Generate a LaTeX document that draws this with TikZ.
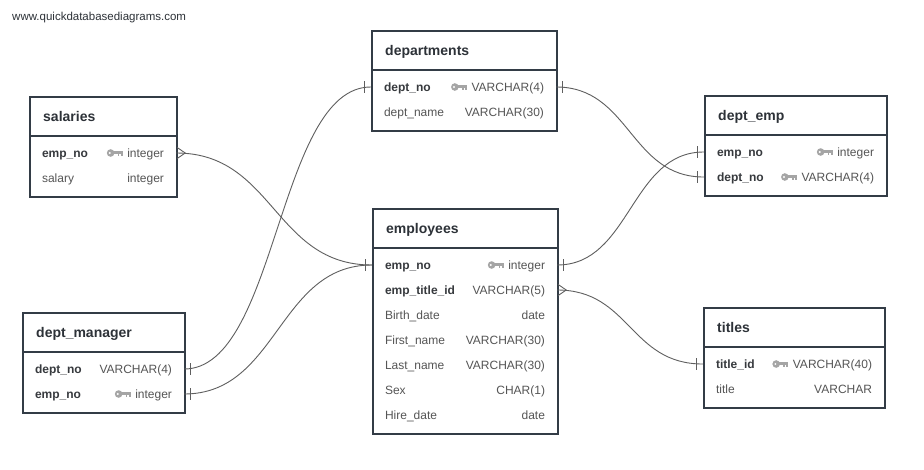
\documentclass[tikz,border=0pt]{standalone}
\usepackage{fontspec}
\setmainfont{Liberation Sans}
\usetikzlibrary{calc}
\definecolor{bordc}{RGB}{51,60,70}
\definecolor{titc}{RGB}{45,50,56}
\definecolor{keyc}{RGB}{165,165,165}
\definecolor{txtc}{RGB}{85,85,85}
\definecolor{boldc}{RGB}{55,58,62}
\definecolor{linec}{RGB}{95,95,95}
\tikzset{
  tbl/.style={draw=bordc, line width=2pt, inner sep=0pt, anchor=north west},
  sepline/.style={draw=bordc, line width=2pt},
  hdr/.style={anchor=base west, inner sep=0pt, text=titc, font=\fontsize{14}{16}\selectfont\bfseries},
  rowbox/.style={inner sep=0pt, minimum height=25pt},
  fldb/.style={anchor=base west, inner sep=0pt, text=boldc, font=\fontsize{12}{14}\selectfont\bfseries},
  fldr/.style={anchor=base west, inner sep=0pt, text=txtc, font=\fontsize{12}{14}\selectfont},
  typ/.style={anchor=base east, inner sep=0pt, text=txtc, font=\fontsize{12}{14}\selectfont},
  conn/.style={draw=linec, line width=0.9pt},
  site/.style={anchor=base west, inner sep=0pt, text=titc, font=\fontsize{11.5}{13}\selectfont},
  keyicon/.pic={
    \fill[keyc] (-12,0) circle (3.8);
    \fill[keyc] (-9.5,-1.6) rectangle (0,1.4);
    \fill[keyc] (-5,0) rectangle (-3.2,3.4);
    \fill[keyc] (-1.8,0) rectangle (0,3.4);
    \fill[white] (-12.8,0) circle (1.1);
  }
}
\newcommand\ertab[6]{%
  \gdef\tx{#2}\gdef\ty{#3}\gdef\tw{#4}%
  \node[tbl, minimum width=#4*1pt, minimum height={(50+25*#5)*1pt}] (#1) at (#2,#3) {};
  \node[hdr] (#1title) at (#2+14,#3+25) {#6};
  \draw[sepline] (#2,#3+40) -- (#2+#4,#3+40);
}
\newcommand\errow[5]{%
  \node[rowbox, minimum width=\tw*1pt] (#1#2) at (\tx+\tw/2, \ty+57+25*#2-25) {};
  \node[#3] (#1#2f) at ($(#1#2.west)+(13,4)$) {#4};
  \node[typ] (#1#2t) at ($(#1#2.east)+(-12,4)$) {#5};
}
\newcommand\erkey[1]{\pic at ($(#1t.base west)+(-4.5,-4)$) {keyicon};}
\newcommand\erconn[2]{\draw[conn] let \p1=(#1.east), \p2=(#2.west), \n1={(\x2-\x1)/2} in (\p1) .. controls +(\n1,0) and +(-\n1,0) .. (\p2);}
\newcommand\barE[1]{\draw[conn] ($(#1.east)+(6,-6)$) -- ($(#1.east)+(6,6)$);}
\newcommand\barW[1]{\draw[conn] ($(#1.west)+(-6,-6)$) -- ($(#1.west)+(-6,6)$);}
\newcommand\crowE[1]{\draw[conn] ($(#1.east)+(1,-5.5)$) -- ($(#1.east)+(9,0)$) -- ($(#1.east)+(1,5.5)$);}
\begin{document}
\begin{tikzpicture}[x=1pt,y=-1pt]
\useasboundingbox (0,0) rectangle (924,469);
\fill[white] (0,0) rectangle (924,469);
\node[site] (site) at (12,20) {www.quickdatabasediagrams.com};

% salaries
\ertab{sal}{29}{96}{147}{2}{salaries}
\errow{sal}{1}{fldb}{emp\_no}{integer}
\errow{sal}{2}{fldr}{salary}{integer}
\erkey{sal1}

% departments
\ertab{dep}{371}{30}{185}{2}{departments}
\errow{dep}{1}{fldb}{dept\_no}{VARCHAR(4)}
\errow{dep}{2}{fldr}{dept\_name}{VARCHAR(30)}
\erkey{dep1}

% dept_emp
\ertab{de}{704}{95}{182}{2}{dept\_emp}
\errow{de}{1}{fldb}{emp\_no}{integer}
\errow{de}{2}{fldb}{dept\_no}{VARCHAR(4)}
\erkey{de1}
\erkey{de2}

% employees
\ertab{emp}{372}{208}{185}{7}{employees}
\errow{emp}{1}{fldb}{emp\_no}{integer}
\errow{emp}{2}{fldb}{emp\_title\_id}{VARCHAR(5)}
\errow{emp}{3}{fldr}{Birth\_date}{date}
\errow{emp}{4}{fldr}{First\_name}{VARCHAR(30)}
\errow{emp}{5}{fldr}{Last\_name}{VARCHAR(30)}
\errow{emp}{6}{fldr}{Sex}{CHAR(1)}
\errow{emp}{7}{fldr}{Hire\_date}{date}
\erkey{emp1}

% dept_manager
\ertab{dm}{22}{312}{162}{2}{dept\_manager}
\errow{dm}{1}{fldb}{dept\_no}{VARCHAR(4)}
\errow{dm}{2}{fldb}{emp\_no}{integer}
\erkey{dm2}

% titles
\ertab{tit}{703}{307}{181}{2}{titles}
\errow{tit}{1}{fldb}{title\_id}{VARCHAR(40)}
\errow{tit}{2}{fldr}{title}{VARCHAR}
\erkey{tit1}

% connectors
\erconn{sal1}{emp1}
\erconn{dm1}{dep1}
\erconn{dm2}{emp1}
\erconn{dep1}{de2}
\erconn{emp1}{de1}
\erconn{emp2}{tit1}

% markers
\crowE{sal1}
\barW{emp1}
\barE{dm1}
\barW{dep1}
\barE{dm2}
\barE{dep1}
\barW{de2}
\barE{emp1}
\barW{de1}
\crowE{emp2}
\barW{tit1}
\end{tikzpicture}
\end{document}
